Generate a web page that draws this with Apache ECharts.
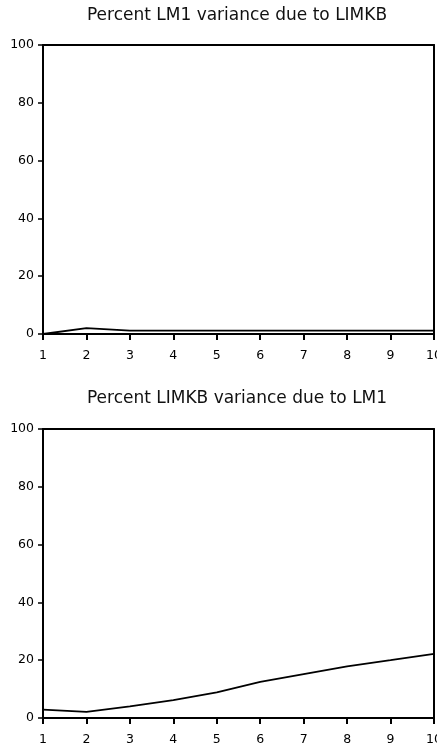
<!DOCTYPE html>
<html><head><meta charset="utf-8">
<script src="https://cdn.jsdelivr.net/npm/echarts@6/dist/echarts.min.js"></script>
<style>html,body{margin:0;padding:0;background:#fff}#c{width:437px;height:751px}</style>
</head><body><div id="c"></div>
<script>
const periods = [1,2,3,4,5,6,7,8,9,10];
const titles = ['Percent LM1 variance due to LIMKB', 'Percent LIMKB variance due to LM1'];
const lm1DueToLimkb = [0, 2.0, 1.2, 1.2, 1.2, 1.2, 1.2, 1.2, 1.2, 1.2];
const limkbDueToLm1 = [2.9, 2.1, 4.0, 6.2, 8.9, 12.5, 15.2, 17.9, 20.0, 22.2];
const yTicks = [0, 20, 40, 60, 80, 100];

const font = 'DejaVu Sans';
const grids = [
  {left: 43, right: 3, top: 45, height: 289, outerBoundsMode:'none', containLabel:false},
  {left: 43, right: 3, top: 429, height: 289, outerBoundsMode:'none', containLabel:false}
];
function xAx(i){
  return {type:'value', gridIndex:i, min:1, max:10, interval:1,
    axisLine:{show:true, lineStyle:{color:'#000', width:2}},
    axisTick:{show:true, length:6, lineStyle:{color:'#000', width:2}},
    axisLabel:{color:'#000', fontFamily:font, fontSize:12.5, margin:15, hideOverlap:false},
    splitLine:{show:false}};
}
function xTop(i){
  return {type:'value', gridIndex:i, position:'top', min:1, max:10,
    axisLine:{show:true, onZero:false, lineStyle:{color:'#000', width:2}},
    axisTick:{show:false}, axisLabel:{show:false}, splitLine:{show:false}};
}
function yAx(i){
  return {type:'value', gridIndex:i, min:yTicks[0], max:yTicks[yTicks.length-1], interval:20,
    axisLine:{show:true, lineStyle:{color:'#000', width:2}},
    axisTick:{show:true, length:5, lineStyle:{color:'#000', width:1.5}},
    axisLabel:{color:'#000', fontFamily:font, fontSize:12.5, margin:9},
    splitLine:{show:false}};
}
function yRight(i){
  return {type:'value', gridIndex:i, position:'right', min:0, max:100,
    axisLine:{show:true, lineStyle:{color:'#000', width:2}},
    axisTick:{show:false}, axisLabel:{show:false}, splitLine:{show:false}};
}
const chart = echarts.init(document.getElementById('c'), null, {renderer:'canvas'});
chart.setOption({
  animation:false,
  backgroundColor:'#fff',
  title:[
    {text:titles[0], left:232, textAlign:'center', top:2, textStyle:{fontFamily:font, fontSize:17, fontWeight:'normal', color:'#111'}},
    {text:titles[1], left:232, textAlign:'center', top:385, textStyle:{fontFamily:font, fontSize:17, fontWeight:'normal', color:'#111'}}
  ],
  grid:grids,
  xAxis:[xAx(0), xTop(0), xAx(1), xTop(1)],
  yAxis:[yAx(0), yRight(0), yAx(1), yRight(1)],
  series:[
    {type:'line', xAxisIndex:0, yAxisIndex:0, data:periods.map((p,k)=>[p, lm1DueToLimkb[k]]),
     symbol:'none', lineStyle:{color:'#000', width:1.8}},
    {type:'line', xAxisIndex:2, yAxisIndex:2, data:periods.map((p,k)=>[p, limkbDueToLm1[k]]),
     symbol:'none', lineStyle:{color:'#000', width:1.8}}
  ]
});
</script></body></html>
